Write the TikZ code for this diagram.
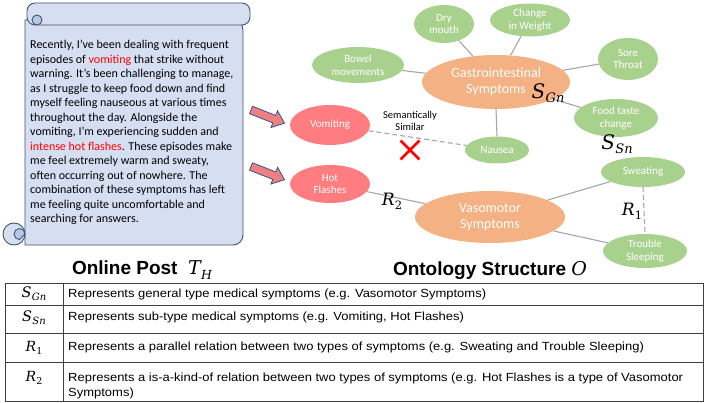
\documentclass[tikz,border=0pt]{standalone}
\usepackage{fontspec}
\setmainfont{Carlito}
\newfontfamily\tabfont{Liberation Sans}[FakeStretch=1.1]
\newfontfamily\titlefont{Liberation Sans}
\newfontfamily\symfont{DejaVu Serif}
\usetikzlibrary{shapes.geometric,shapes.misc}
\definecolor{gnode}{RGB}{169,209,142}
\definecolor{onode}{RGB}{244,177,131}
\definecolor{rnode}{RGB}{255,124,128}
\definecolor{scrollfill}{RGB}{214,222,242}
\definecolor{scrollline}{RGB}{68,84,106}
\definecolor{curlfill}{RGB}{184,198,232}
\definecolor{linkgray}{RGB}{166,166,166}
\definecolor{arrowfill}{RGB}{240,128,128}
\definecolor{arrowline}{RGB}{47,85,151}
\definecolor{postred}{RGB}{255,0,0}
% symbol with subscript: #1 main size, #2 sub size, #3 letter, #4 subscript
\newcommand\symsub[4]{{\symfont\mdseries\itshape\fontsize{#1}{#1}\selectfont #3\kern0.3pt\raisebox{-0.22em}{\fontsize{#2}{#2}\selectfont #4}}}
\begin{document}
\begin{tikzpicture}[x=1pt,y=-1pt,
  symp/.style={ellipse, inner sep=0pt, text=white, align=center, font=\fontsize{11}{12.5}\selectfont},
  gsymp/.style={symp, fill=gnode},
  rsymp/.style={symp, fill=rnode},
  osymp/.style={symp, fill=onode, font=\fontsize{14}{16}\selectfont},
  link/.style={draw=linkgray, line width=1.1pt},
  simlink/.style={link, dash pattern=on 5pt off 3pt},
  mathlbl/.style={inner sep=0pt},
  scrollpart/.style={fill=scrollfill, draw=scrollline, line width=0.9pt},
  blockarrow/.style={fill=arrowfill, draw=arrowline, line width=0.8pt, line join=miter},
  tabline/.style={draw=black!75, line width=0.8pt},
  tabtext/.style={inner sep=0pt, align=left, font=\tabfont\fontsize{11.8}{15}\selectfont},
  title/.style={inner sep=0pt, font=\titlefont\bfseries\fontsize{19}{22}\selectfont}
]
\useasboundingbox (0,0) rectangle (708,403);
% ---------------- scroll ----------------
\path[scrollpart] (25,20) -- (25,245) [rounded corners=10pt] -- (243,245) -- (243,20) [sharp corners] -- cycle;
\path[scrollpart, rounded corners=8pt] (27,3) rectangle (250,25);
\draw[scrollline, line width=0.9pt, fill=curlfill] (37,25) arc[start angle=90, end angle=450, radius=5];
\path[scrollpart] (14,234) circle (11);
\draw[scrollline, line width=0.9pt, fill=curlfill] (25,234) arc[start angle=0, end angle=-270, radius=5.5] -- cycle;
\node[anchor=north west, inner sep=0pt, align=left, font=\fontsize{12}{14.5}\selectfont] (post) at (30,40) {%
Recently, I've been dealing with frequent\\
episodes of \textcolor{postred}{vomiting} that strike without\\
warning. It's been challenging to manage,\\
as I struggle to keep food down and find\\
myself feeling nauseous at various times\\
throughout the day. Alongside the\\
vomiting, I'm experiencing sudden and\\
\textcolor{postred}{intense hot flashes}. These episodes make\\
me feel extremely warm and sweaty,\\
often occurring out of nowhere. The\\
combination of these symptoms has left\\
me feeling quite uncomfortable and\\
searching for answers.};
% ---------------- block arrows ----------------
\begin{scope}[shift={(251,110)}, rotate=-21.5]
\path[blockarrow] (0,-4) -- (25,-4) -- (25,-9) -- (36,0) -- (25,9) -- (25,4) -- (0,4) -- cycle;
\end{scope}
\begin{scope}[shift={(251,166.5)}, rotate=-21.5]
\path[blockarrow] (0,-4) -- (25,-4) -- (25,-9) -- (36,0) -- (25,9) -- (25,4) -- (0,4) -- cycle;
\end{scope}
% ---------------- ontology nodes ----------------
\node[osymp, minimum width=148pt, minimum height=54pt] (gi) at (496,82) {Gastrointestinal\\Symptoms};
\node[osymp, minimum width=150pt, minimum height=52pt] (vaso) at (490,217) {Vasomotor\\Symptoms};
\node[gsymp, minimum width=92pt, minimum height=36pt] (bowel) at (358,65) {Bowel\\movements};
\node[gsymp, minimum width=60pt, minimum height=38pt] (dry) at (444,24) {Dry\\mouth};
\node[gsymp, minimum width=80pt, minimum height=33pt] (weight) at (530,20) {Change\\in Weight};
\node[gsymp, minimum width=60pt, minimum height=42pt] (sore) at (628,59) {Sore\\Throat};
\node[gsymp, minimum width=84pt, minimum height=38pt] (food) at (616,118) {Food taste\\change};
\node[gsymp, minimum width=64pt, minimum height=27pt] (nausea) at (497,150) {Nausea};
\node[gsymp, minimum width=84pt, minimum height=30pt] (sweat) at (643,172) {Sweating};
\node[gsymp, minimum width=84pt, minimum height=34pt] (sleep) at (645,251) {Trouble\\Sleeping};
\node[rsymp, minimum width=80pt, minimum height=40pt] (vomit) at (330,125) {Vomiting};
\node[rsymp, minimum width=80pt, minimum height=38pt] (hot) at (330,184) {Hot\\Flashes};
% ---------------- connectors ----------------
\draw[link] (gi) -- (bowel);
\draw[link] (gi) -- (dry);
\draw[link] (gi) -- (weight);
\draw[link] (gi) -- (sore);
\draw[link] (gi) -- (food);
\draw[link] (gi.south) -- (nausea.north);
\draw[link] (hot) -- (vaso);
\draw[link] (vaso) -- (sweat);
\draw[link] (vaso) -- (sleep);
\draw[simlink] (sweat.south) -- (sleep.north);
\draw[simlink] (vomit) -- (nausea);
% ---------------- labels ----------------
\node[inner sep=0pt, align=center, font=\fontsize{10.5}{12}\selectfont] (sem) at (410,121) {Semantically\\Similar};
\node[cross out, draw=postred, line width=2.8pt, minimum size=16pt, inner sep=0pt] (cross) at (410,150) {};
\node[mathlbl] (sgn) at (548,93) {\symsub{20}{13}{S}{Gn}};
\node[mathlbl] (ssn) at (617,144) {\symsub{20}{13}{S}{Sn}};
\node[mathlbl] (r2) at (392,201) {\symsub{17}{11.5}{R}{\upshape 2}};
\node[mathlbl] (r1) at (632,211) {\symsub{17}{11.5}{R}{\upshape 1}};
% ---------------- titles ----------------
\node[title] (tpost) at (142,270) {Online Post\; \symsub{19}{12.5}{T}{H}};
\node[title] (tonto) at (490,270) {Ontology Structure {\symfont\itshape\mdseries O}};
% ---------------- table ----------------
\draw[tabline] (5,283) rectangle (703,401);
\draw[tabline] (5,305) -- (703,305);
\draw[tabline] (5,333) -- (703,333);
\draw[tabline] (5,362) -- (703,362);
\draw[tabline] (63,283) -- (63,401);
\node[mathlbl] (k1) at (34,294) {\symsub{14.5}{10}{S}{Gn}};
\node[mathlbl] (k2) at (34,318) {\symsub{14.5}{10}{S}{Sn}};
\node[mathlbl] (k3) at (34,348) {\symsub{14}{9.5}{R}{\upshape 1}};
\node[mathlbl] (k4) at (34,378) {\symsub{14}{9.5}{R}{\upshape 2}};
\node[tabtext, anchor=west] (v1) at (68,294) {Represents general type medical symptoms (e.g. Vasomotor Symptoms)};
\node[tabtext, anchor=west] (v2) at (68,317) {Represents sub-type medical symptoms (e.g. Vomiting, Hot Flashes)};
\node[tabtext, anchor=west] (v3) at (68,347) {Represents a parallel relation between two types of symptoms (e.g. Sweating and Trouble Sleeping)};
\node[tabtext, anchor=north west] (v4) at (68,373) {Represents a is-a-kind-of relation between two types of symptoms (e.g. Hot Flashes is a type of Vasomotor\\Symptoms)};
\end{tikzpicture}
\end{document}
